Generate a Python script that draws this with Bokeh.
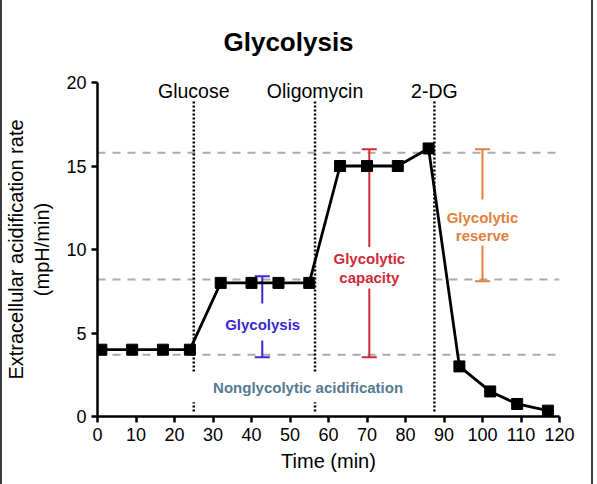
from bokeh.plotting import figure
from bokeh.models import Range1d, FixedTicker, LinearAxis
from bokeh.core.properties import value
from bokeh.embed import file_html
from bokeh.resources import INLINE

# Seahorse glycolysis stress test: ECAR over time
time_min = [1, 9, 17, 24, 32, 40, 47, 55, 63, 70, 78, 86, 94, 102, 109, 117]
ecar = [4.0, 4.0, 4.0, 4.0, 8.0, 8.0, 8.0, 8.0, 15.0, 15.0, 15.0, 16.05, 3.0, 1.5, 0.75, 0.35]

# Injection times and compound names
injection_times = [25, 56.5, 87.5]
injection_names = ["Glucose", "Oligomycin", "2-DG"]

# Reference levels (non-glycolytic, glycolysis, max capacity)
level_y = [3.7, 8.2, 8.2, 15.8]
level_x_start = [0, 0, 87.5, 0]
level_x_end = [120, 56.5, 120, 120]

# Bracketed quantities
bar_x = [42.8, 70.6, 100.0]
bar_low = [3.55, 3.55, 8.1]
bar_high = [8.4, 16.0, 16.0]
bar_colors = ["#3a27d8", "#d02a35", "#e2803c"]

x_ticks = list(range(0, 121, 10))
y_ticks = [0, 5, 10, 15, 20]

FONT = "Liberation Sans"

p = figure(width=593, height=484, x_range=Range1d(0, 120), y_range=Range1d(0, 20),
           output_backend="svg", toolbar_location=None,
           min_border_left=95, min_border_right=36, min_border_top=82, min_border_bottom=68)
p.styles = {"border-left": "2px solid #3c3c3c", "border-right": "2px solid #3c3c3c"}
p.grid.visible = False
p.outline_line_color = None
p.background_fill_color = "white"
p.border_fill_color = "white"

p.title.text = "Glycolysis"
p.title.align = "left"
p.title.offset = 126
p.title.text_font = FONT
p.title.text_font_size = "26px"
p.title.text_font_style = "bold"
p.title.text_color = "black"
p.title.standoff = 39

p.xaxis.ticker = FixedTicker(ticks=x_ticks)
p.yaxis.ticker = FixedTicker(ticks=y_ticks)
p.xaxis.axis_label = "Time (min)"
p.yaxis.axis_label = "Extracellular acidification rate\n(mpH/min)"
for ax in (p.xaxis, p.yaxis):
    ax.axis_line_width = 2.5
    ax.axis_line_color = "black"
    ax.major_tick_line_width = 2.5
    ax.major_tick_line_color = "black"
    ax.major_tick_out = 6
    ax.major_tick_in = 0
    ax.minor_tick_out = 0
    ax.minor_tick_in = 0
    ax.major_label_text_font = FONT
    ax.major_label_text_font_size = "18px"
    ax.major_label_text_color = "black"
    ax.major_label_standoff = 5
    ax.axis_label_text_font = FONT
    ax.axis_label_text_font_size = "20px"
    ax.axis_label_text_font_style = "normal"
    ax.axis_label_text_color = "black"
p.xaxis.axis_label_standoff = 6
p.yaxis.axis_label_standoff = 10

# Compound names above the plot, one per injection
inj_axis = LinearAxis(ticker=FixedTicker(ticks=injection_times),
                      major_label_overrides=dict(zip(injection_times, injection_names)),
                      axis_line_color=None, major_tick_line_color=None, minor_tick_line_color=None,
                      major_tick_out=0, major_tick_in=0, minor_tick_out=0, minor_tick_in=0,
                      axis_label_standoff=0,
                      major_label_standoff=-19, major_label_text_font=FONT,
                      major_label_text_font_size="19.5px", major_label_text_color="black")
p.add_layout(inj_axis, "above")

# Dashed reference levels
p.segment(x0=level_x_start, y0=level_y, x1=level_x_end, y1=level_y,
          line_color="#aaaaaa", line_width=2, line_dash="8 7")

# Dotted injection markers
p.segment(x0=injection_times, y0=[0.3] * 3, x1=injection_times, y1=[18.9] * 3,
          line_color="black", line_width=2.5, line_dash="2 2")

# Brackets
p.segment(x0=bar_x, y0=bar_low, x1=bar_x, y1=bar_high, line_color=bar_colors, line_width=2)
p.scatter(x=bar_x + bar_x, y=bar_low + bar_high, marker="dash", size=15,
          line_color=bar_colors + bar_colors, line_width=2)

# White backing behind the annotation texts
p.quad(left=[33, 57.5, 90, 24], right=[53, 86.5, 110, 81],
       bottom=[4.55, 7.66, 10.24, 0.85], top=[6.77, 10.15, 13.0, 2.6],
       fill_color="white", line_color=None)

# Bracket labels
p.text(x=[42.9], y=[5.5], text=["Glycolysis"], text_color=bar_colors[0],
       text_font=value(FONT), text_font_style="bold", text_font_size="15px",
       text_align="center", text_baseline="middle")
p.text(x=[70.6, 70.6], y=[9.46, 8.32], text=["Glycolytic", "capacity"], text_color=bar_colors[1],
       text_font=value(FONT), text_font_style="bold", text_font_size="15px",
       text_align="center", text_baseline="middle")
p.text(x=[100, 100], y=[11.93, 10.84], text=["Glycolytic", "reserve"], text_color=bar_colors[2],
       text_font=value(FONT), text_font_style="bold", text_font_size="15px",
       text_align="center", text_baseline="middle")
p.text(x=[54.7], y=[1.75], text=["Nonglycolytic acidification"], text_color="#557a92",
       text_font=value(FONT), text_font_style="bold", text_font_size="15px",
       text_align="center", text_baseline="middle")

# ECAR trace
p.line(time_min, ecar, line_color="black", line_width=2.8)
p.scatter(time_min, ecar, marker="square", size=11, fill_color="black", line_color="black")

open("out.html", "w").write(file_html(p, INLINE))
